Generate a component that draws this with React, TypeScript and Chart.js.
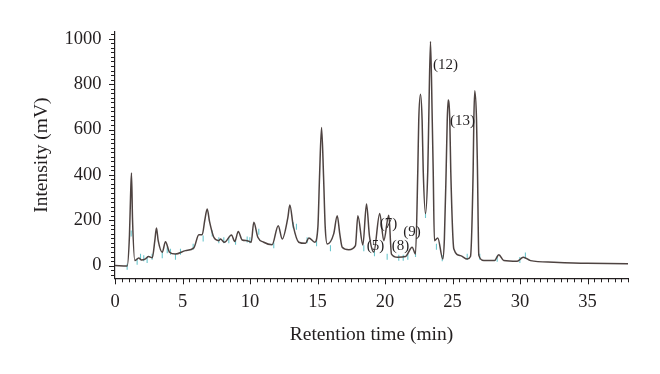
import React, { useEffect, useRef } from "react";
import { Chart, registerables } from "chart.js";

Chart.register(...registerables);

// Chromatogram trace (retention time in min, intensity in mV)
const retentionTimes = [
  0, 0.9, 1.07, 1.15, 1.22, 1.3, 1.47, 1.76, 1.96, 2.26, 2.48, 2.76, 2.95, 3.07, 3.2, 3.5,
  3.74, 4.04, 4.48, 5.22, 5.84, 6.21, 6.46, 6.65, 6.83, 7.0, 7.32, 7.69, 7.81, 8.11, 8.63,
  8.87, 9.13, 9.42, 9.79, 10.09, 10.28, 10.58, 11.02, 11.64, 12.09, 12.39, 12.8, 12.95, 13.2,
  13.61, 14.11, 14.36, 14.8, 15.03, 15.15, 15.3, 15.45, 15.57, 15.72, 16.2, 16.46, 16.65,
  16.83, 17.32, 17.81, 17.99, 18.36, 18.63, 18.85, 19.17, 19.61, 19.91, 20.28, 20.48, 20.93,
  21.52, 22.01, 22.26, 22.43, 22.5, 22.63, 22.75, 22.83, 23.0, 23.17, 23.24, 23.37, 23.5,
  23.57, 23.66, 23.91, 24.28, 24.4, 24.53, 24.61, 24.68, 24.8, 24.87, 25.1, 25.59, 26.09,
  26.33, 26.53, 26.58, 26.65, 26.78, 26.85, 26.95, 27.32, 28.11, 28.43, 28.8, 29.79, 30.24,
  30.78, 32.48, 34.98, 37.96, 38,
];
const intensities = [
  0, -2, 132, 300, 408, 200, 22, 34, 25, 30, 40, 35, 110, 166, 110, 59,
  105, 59, 51, 66, 78, 136, 136, 200, 250, 195, 125, 110, 117, 103, 135,
  106, 150, 113, 110, 103, 191, 125, 103, 92, 176, 117, 210, 267, 176,
  103, 98, 122, 103, 171, 391, 609, 391, 171, 95, 140, 220, 140,
  81, 70, 88, 220, 91, 272, 130, 60, 230, 110, 222, 51, 37,
  40, 81, 51, 421, 641, 756, 641, 421, 230, 421, 641, 988, 641,
  421, 110, 122, 29, 120, 421, 641, 730, 641, 421, 73, 44, 29,
  40, 421, 641, 771, 641, 421, 45, 22, 22, 48, 22, 19, 37,
  22, 15, 10, 8, 8,
];

// Integration markers (cyan ticks)
const markerTimes = [
  0.9, 1.2, 1.64, 1.89, 2.13, 2.38, 2.75, 3.5, 3.87, 4.11, 4.48, 4.85, 5.79, 6.53, 7.2,
  7.69, 8.06, 8.43, 8.93, 9.79, 9.99, 10.65, 11.76, 13.2, 13.44, 14.23, 14.93, 15.96,
  18.43, 19.22, 20.16, 21.02, 21.35, 21.69, 22.26, 23.0, 23.81, 24.24, 26.09, 27.02,
  28.31, 29.99, 30.4,
];
const markerIntensities = [
  -5, 142, 17, 39, 32, 25, 39, 46, 68, 61, 39, 61, 83, 120, 142,
  112, 112, 112, 105, 115, 112, 149, 90, 178, 171, 112, 98, 76,
  76, 54, 39, 35, 35, 39, 51, 223, 83, 32, 39, 39,
  30, 25, 44,
];

// Peak annotations
const peakLabels = ["(5)", "(7)", "(8)", "(9)", "(12)", "(13)"];
const peakLabelTimes = [19.3, 20.26, 21.15, 22.0, 24.48, 25.74];
const peakLabelIntensities = [86, 185, 88, 148, 883, 636];

// Axes
const xTickValues = [0, 5, 10, 15, 20, 25, 30, 35];
const yTickValues = [0, 200, 400, 600, 800, 1000];
const X_MIN = 0;
const X_MAX = 38;
const Y_MIN = -56;
const Y_MAX = 1030;
const X_MINOR_STEP = 0.5;
const Y_MINOR_STEP = 20;
const X_MAJOR_STEP = 5;
const Y_MAJOR_STEP = 200;

const TEXT_COLOR = "#231f20";
const FONT_FAMILY = '"Liberation Serif", "DejaVu Serif", serif';

const decorPlugin = {
  id: "decor",
  afterDraw(chart: any) {
    const { ctx, chartArea } = chart;
    const xs = chart.scales.x;
    const ys = chart.scales.y;
    ctx.save();
    ctx.strokeStyle = TEXT_COLOR;
    ctx.lineWidth = 1;
    ctx.beginPath();
    const nx = Math.round((X_MAX - X_MIN) / X_MINOR_STEP);
    for (let i = 0; i <= nx; i++) {
      const v = X_MIN + i * X_MINOR_STEP;
      const px = Math.round(xs.getPixelForValue(v)) + 0.5;
      const major = Math.abs(v / X_MAJOR_STEP - Math.round(v / X_MAJOR_STEP)) < 1e-6;
      ctx.moveTo(px, chartArea.bottom);
      ctx.lineTo(px, chartArea.bottom + (major ? 6 : 4));
    }
    const yStart = Math.ceil(Y_MIN / Y_MINOR_STEP) * Y_MINOR_STEP;
    for (let v = yStart; v <= Y_MAX; v += Y_MINOR_STEP) {
      const py = Math.round(ys.getPixelForValue(v)) + 0.5;
      const major = Math.abs(v / Y_MAJOR_STEP - Math.round(v / Y_MAJOR_STEP)) < 1e-6;
      ctx.moveTo(chartArea.left, py);
      ctx.lineTo(chartArea.left - (major ? 6 : 4), py);
    }
    ctx.stroke();

    ctx.fillStyle = TEXT_COLOR;
    ctx.font = `15px ${FONT_FAMILY}`;
    ctx.textAlign = "center";
    ctx.textBaseline = "middle";
    peakLabels.forEach((label, i) => {
      ctx.fillText(
        label,
        xs.getPixelForValue(peakLabelTimes[i]),
        ys.getPixelForValue(peakLabelIntensities[i])
      );
    });
    ctx.restore();
  },
};

export default function App() {
  const canvasRef = useRef<HTMLCanvasElement | null>(null);

  useEffect(() => {
    if (!canvasRef.current) return;
    const trace = retentionTimes.map((t, i) => ({ x: t, y: intensities[i] }));
    const markers = markerTimes.map((t, i) => ({ x: t, y: markerIntensities[i] }));

    const chart = new Chart(canvasRef.current, {
      type: "line",
      data: {
        datasets: [
          {
            label: "markers",
            data: markers,
            showLine: false,
            pointStyle: "line",
            pointRotation: 90,
            pointRadius: 3,
            borderColor: "#6cc6cd",
            backgroundColor: "#6cc6cd",
            pointBorderWidth: 1.1,
            order: 2,
          },
          {
            label: "trace",
            data: trace,
            borderColor: "#4e4341",
            borderWidth: 1.5,
            pointRadius: 0,
            cubicInterpolationMode: "monotone",
            fill: false,
            order: 1,
          },
        ],
      },
      options: {
        animation: false,
        responsive: false,
        maintainAspectRatio: false,
        layout: { padding: { left: 0, top: 32, right: 32, bottom: 0 } },
        plugins: { legend: { display: false }, tooltip: { enabled: false } },
        scales: {
          x: {
            type: "linear",
            min: X_MIN,
            max: X_MAX,
            grid: { display: false, drawTicks: false },
            border: { display: true, color: TEXT_COLOR, width: 1.2 },
            afterBuildTicks: (scale: any) => {
              scale.ticks = xTickValues.map((v) => ({ value: v }));
            },
            afterFit: (scale: any) => {
              scale.height = 95.7;
            },
            ticks: {
              color: TEXT_COLOR,
              padding: 13,
              maxRotation: 0,
              autoSkip: false,
              callback: (v: any) => String(v),
              font: { family: FONT_FAMILY, size: 18.5 },
            },
            title: {
              display: true,
              text: "Retention time (min)",
              color: TEXT_COLOR,
              font: { family: FONT_FAMILY, size: 19.5 },
              padding: { top: 0, bottom: 27 },
            },
          },
          y: {
            type: "linear",
            min: Y_MIN,
            max: Y_MAX,
            grid: { display: false, drawTicks: false },
            border: { display: true, color: TEXT_COLOR, width: 1.2 },
            afterBuildTicks: (scale: any) => {
              scale.ticks = yTickValues.map((v) => ({ value: v }));
            },
            afterFit: (scale: any) => {
              scale.width = 115;
            },
            ticks: {
              color: TEXT_COLOR,
              padding: 13.5,
              autoSkip: false,
              callback: (v: any) => String(v),
              font: { family: FONT_FAMILY, size: 18.5 },
            },
            title: {
              display: true,
              text: "Intensity (mV)",
              color: TEXT_COLOR,
              font: { family: FONT_FAMILY, size: 19.5 },
              padding: { top: 30, bottom: 0 },
            },
          },
        },
      },
      plugins: [decorPlugin],
    });
    return () => chart.destroy();
  }, []);

  return (
    <div style={{ position: "absolute", left: 0, top: 0, width: 660, height: 374, background: "#fff" }}>
      <canvas ref={canvasRef} width={660} height={374} style={{ width: 660, height: 374 }} />
    </div>
  );
}
